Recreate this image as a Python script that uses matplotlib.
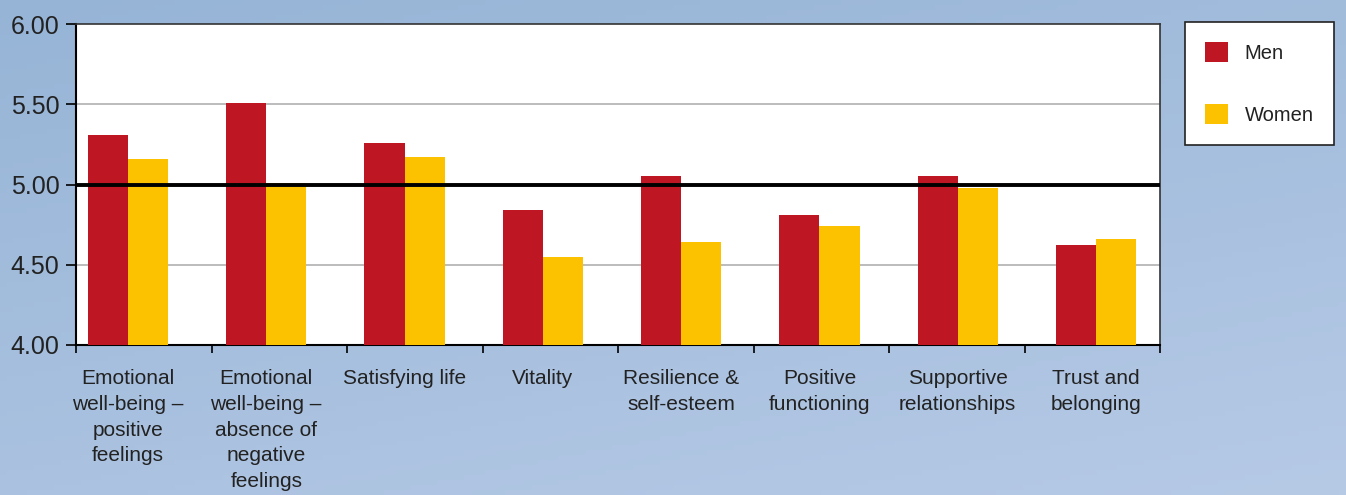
import matplotlib
matplotlib.use("Agg")
import matplotlib.pyplot as plt
import numpy as np
from matplotlib.patches import Patch

categories = [
    "Emotional\nwell-being –\npositive\nfeelings",
    "Emotional\nwell-being –\nabsence of\nnegative\nfeelings",
    "Satisfying life",
    "Vitality",
    "Resilience &\nself-esteem",
    "Positive\nfunctioning",
    "Supportive\nrelationships",
    "Trust and\nbelonging",
]
men = [5.31, 5.51, 5.26, 4.84, 5.05, 4.81, 5.05, 4.62]
women = [5.16, 5.01, 5.17, 4.55, 4.64, 4.74, 4.98, 4.66]
yticks = [4.00, 4.50, 5.00, 5.50, 6.00]

RED = "#BE1622"
YELLOW = "#FCC200"

plt.rcParams["font.family"] = ["Liberation Sans", "DejaVu Sans"]

fig = plt.figure(figsize=(13.46, 4.95), dpi=100)

# blue gradient background
bg = fig.add_axes([0, 0, 1, 1], zorder=-10)
gx, gy = np.meshgrid(np.linspace(0, 1, 200), np.linspace(0, 1, 100))
g = 0.65 * gy + 0.35 * gx
c0 = np.array([150, 180, 214]) / 255
c1 = np.array([182, 202, 230]) / 255
img = c0[None, None, :] * (1 - g[..., None]) + c1[None, None, :] * g[..., None]
bg.imshow(img, aspect="auto", extent=[0, 1, 0, 1], origin="upper")
bg.axis("off")

ax = fig.add_axes([76 / 1346, 150 / 495, 1084 / 1346, 321 / 495])
ax.set_facecolor("white")

x = np.arange(len(categories))
w = 0.29
ax.bar(x - w / 2, men, w, color=RED, zorder=3)
ax.bar(x + w / 2, women, w, color=YELLOW, zorder=3)

xmin, xmax = -0.376, 7.463
ax.set_xlim(xmin, xmax)
ax.set_ylim(4.0, 6.0)

ax.set_yticks(yticks)
ax.set_yticklabels([f"{v:.2f}" for v in yticks], fontsize=18, color="#222222")
ax.tick_params(axis="y", length=7, width=1.2, direction="out", pad=5)

ax.set_xticks(np.linspace(xmin, xmax, 9))
ax.set_xticklabels([])
ax.tick_params(axis="x", length=6, width=1.2, direction="out")
for xi, lab in zip(x, categories):
    ax.text(xi, -0.075, lab, transform=ax.get_xaxis_transform(), ha="center", va="top",
            fontsize=15, color="#222222", linespacing=1.45)

for v in [4.5, 5.5]:
    ax.axhline(v, color="#b0b0b0", lw=1.2, zorder=1)
ax.axhline(5.0, color="black", lw=2.8, zorder=4)

for s in ["left", "bottom"]:
    ax.spines[s].set_color("black")
    ax.spines[s].set_linewidth(1.5)
for s in ["top", "right"]:
    ax.spines[s].set_color("#333333")
    ax.spines[s].set_linewidth(1.2)

handles = [Patch(facecolor=RED, label="Men"), Patch(facecolor=YELLOW, label="Women")]
leg = fig.legend(handles=handles, loc="upper left", bbox_to_anchor=(1185 / 1346, 1 - 22 / 495),
                 fontsize=14.5, frameon=True, fancybox=False, edgecolor="#222222",
                 framealpha=1, facecolor="white",
                 handlelength=1.15, handleheight=1.15, labelspacing=2.05,
                 borderpad=1.0, handletextpad=0.8, borderaxespad=0)
leg.get_frame().set_linewidth(1.2)
for t in leg.get_texts():
    t.set_color("#222222")

fig.savefig("out.png", dpi=100)
